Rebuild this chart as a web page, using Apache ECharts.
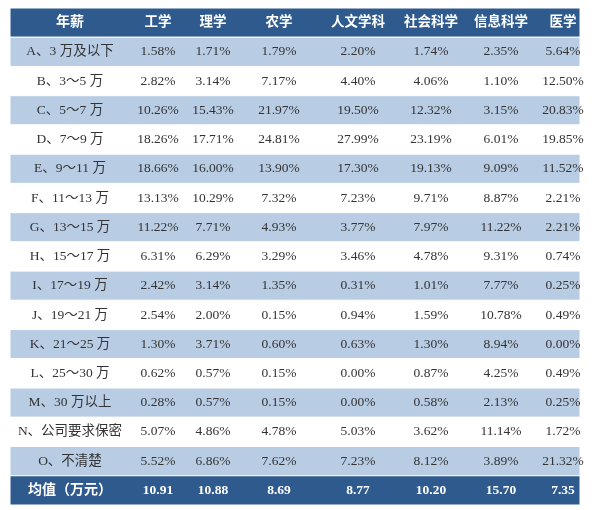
<!DOCTYPE html>
<html>
<head>
<meta charset="utf-8">
<script src="https://cdn.jsdelivr.net/npm/echarts@6/dist/echarts.min.js"></script>
<style>html,body{margin:0;padding:0;background:#fff}#main{width:600px;height:510px}</style>
</head>
<body>
<div id="main"></div>
<script>
const headers = ['年薪', '工学', '理学', '农学', '人文学科', '社会科学', '信息科学', '医学']
const rowLabels = ['A、3 万及以下', 'B、3～5 万', 'C、5～7 万', 'D、7～9 万', 'E、9～11 万',
  'F、11～13 万', 'G、13～15 万', 'H、15～17 万', 'I、17～19 万', 'J、19～21 万', 'K、21～25 万',
  'L、25～30 万', 'M、30 万以上', 'N、公司要求保密', 'O、不清楚']
const gongxue = [1.58, 2.82, 10.26, 18.26, 18.66, 13.13, 11.22, 6.31, 2.42, 2.54, 1.30, 0.62, 0.28, 5.07, 5.52]
const lixue = [1.71, 3.14, 15.43, 17.71, 16.00, 10.29, 7.71, 6.29, 3.14, 2.00, 3.71, 0.57, 0.57, 4.86, 6.86]
const nongxue = [1.79, 7.17, 21.97, 24.81, 13.90, 7.32, 4.93, 3.29, 1.35, 0.15, 0.60, 0.15, 0.15, 4.78, 7.62]
const renwen = [2.20, 4.40, 19.50, 27.99, 17.30, 7.23, 3.77, 3.46, 0.31, 0.94, 0.63, 0.00, 0.00, 5.03, 7.23]
const shehui = [1.74, 4.06, 12.32, 23.19, 19.13, 9.71, 7.97, 4.78, 1.01, 1.59, 1.30, 0.87, 0.58, 3.62, 8.12]
const xinxi = [2.35, 1.10, 3.15, 6.01, 9.09, 8.87, 11.22, 9.31, 7.77, 10.78, 8.94, 4.25, 2.13, 11.14, 3.89]
const yixue = [5.64, 12.50, 20.83, 19.85, 11.52, 2.21, 2.21, 0.74, 0.25, 0.49, 0.00, 0.49, 0.25, 1.72, 21.32]
const meanLabel = '均值（万元）'
const means = [10.91, 10.88, 8.69, 8.77, 10.20, 15.70, 7.35]

// layout: column centres as fraction of table width (table spans x 10..580)
const colCentres = [70, 158, 213, 279, 358, 431, 501, 563]

const columns = [gongxue, lixue, nongxue, renwen, shehui, xinxi, yixue]
const rows = [{ kind: 'head', cells: headers }]
rowLabels.forEach((lab, i) => {
  rows.push({ kind: i % 2 === 0 ? 'blue' : 'white', cells: [lab].concat(columns.map(c => c[i].toFixed(2) + '%')) })
})
rows.push({ kind: 'head', cells: [meanLabel].concat(means.map(v => v.toFixed(2))) })

const FONT = '"Liberation Serif", "Noto Sans CJK SC", serif'
const chart = echarts.init(document.getElementById('main'))

chart.setOption({
  animation: false,
  grid: { left: 10, right: 20, top: 8, bottom: 5 },
  xAxis: { type: 'value', min: 10, max: 580, show: false },
  yAxis: { type: 'category', inverse: true, show: false, data: rows.map((r, i) => i) },
  series: [{
    type: 'custom',
    data: rows.map((r, i) => [i]),
    renderItem (params, api) {
      const r = rows[api.value(0)]
      const c = api.coord([10, api.value(0)])
      const h = api.size([0, 1])[1]
      const w = api.coord([580, 0])[0] - c[0]
      const top = c[1] - h / 2
      const head = r.kind === 'head'
      const children = [{
        type: 'rect',
        shape: { x: c[0], y: top, width: w, height: h },
        style: { fill: head ? '#2f5a8e' : (r.kind === 'blue' ? '#b8cce4' : '#ffffff'), stroke: '#ffffff', lineWidth: 1 }
      }]
      r.cells.forEach((t, j) => {
        children.push({
          type: 'text',
          style: {
            x: api.coord([colCentres[j], 0])[0], y: c[1], text: t,
            align: 'center', verticalAlign: 'middle',
            fill: head ? '#ffffff' : '#333333',
            font: (head ? 'bold ' : '') + (head && j === 0 ? 14 : 13.5) + 'px ' + FONT
          }
        })
      })
      return { type: 'group', children }
    }
  }]
})
</script>
</body>
</html>
